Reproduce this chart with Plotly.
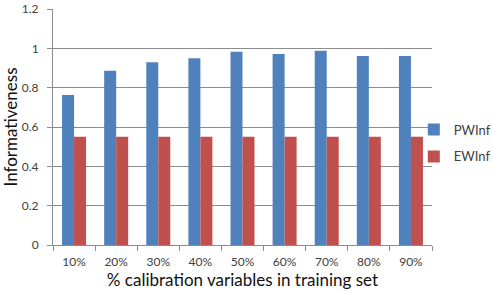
import plotly.graph_objects as go

categories = ["10%", "20%", "30%", "40%", "50%", "60%", "70%", "80%", "90%"]
pwinf = [0.763, 0.886, 0.929, 0.949, 0.983, 0.971, 0.988, 0.961, 0.961]
ewinf = [0.551, 0.551, 0.551, 0.551, 0.551, 0.551, 0.551, 0.551, 0.551]
y_ticks = [0, 0.2, 0.4, 0.6, 0.8, 1, 1.2]
y_tick_labels = ["0", "0.2", "0.4", "0.6", "0.8", "1", "1.2"]

FONT = "Lato, Carlito, 'Liberation Sans', sans-serif"

fig = go.Figure()
fig.add_trace(go.Bar(x=categories, y=pwinf, name="PWInf", marker_color="#4F81BD",
                     marker_line_width=0, legendgroup="a"))
fig.add_trace(go.Bar(x=categories, y=ewinf, name="EWInf", marker_color="#C0504D",
                     marker_line_width=0, legendgroup="b"))

fig.update_layout(
    width=493, height=292,
    margin=dict(l=53, r=61, t=9, b=47, autoexpand=False),
    paper_bgcolor="white", plot_bgcolor="white",
    barmode="group", bargap=0.43, bargroupgap=0,
    font=dict(family=FONT, color="#404040"),
    showlegend=True,
    legend=dict(x=0.952, y=0.432, xanchor="left", yanchor="middle",
                font=dict(size=13, color="#404040"),
                traceorder="grouped", tracegroupgap=7,
                itemwidth=30, bgcolor="rgba(0,0,0,0)"),
)
fig.update_yaxes(
    range=[0, 1.2], tickvals=y_ticks, ticktext=y_tick_labels,
    showgrid=True, gridcolor="#8C8C8C", gridwidth=1,
    showline=True, linecolor="#8C8C8C", linewidth=1,
    ticks="outside", ticklen=5, tickcolor="#8C8C8C", ticklabelstandoff=6,
    tickfont=dict(size=12, color="#404040"),
    title=dict(text="Informativeness", font=dict(size=17, color="#111111"), standoff=10),
    zeroline=False, automargin=False,
)
fig.update_xaxes(
    showline=True, linecolor="#8C8C8C", linewidth=1,
    ticks="outside", tickson="boundaries", ticklen=5, tickcolor="#8C8C8C",
    ticklabelstandoff=6,
    tickfont=dict(size=12, color="#404040"),
    title=dict(text="% calibration variables in training set", font=dict(size=17, color="#111111"), standoff=2),
    automargin=False,
)

fig.write_html("out.html")
